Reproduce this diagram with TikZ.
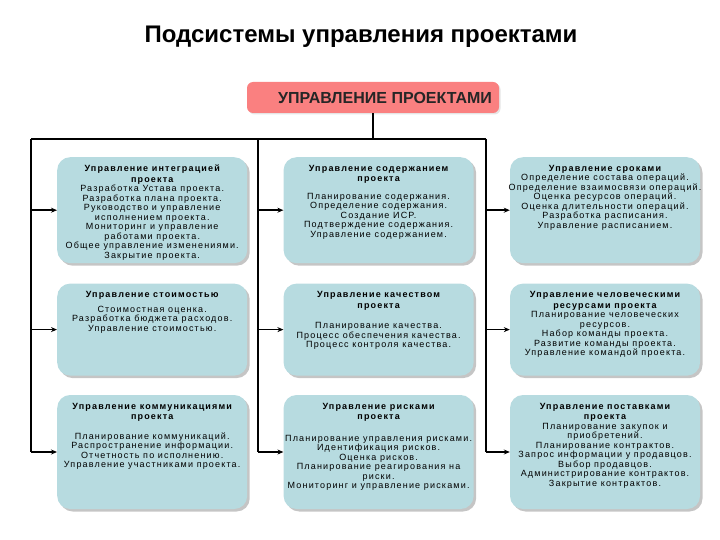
\documentclass[tikz,border=0pt]{standalone}
\usepackage{fontspec}
\setmainfont{Liberation Sans}
\newfontfamily\boxfont[LetterSpace=13]{Liberation Sans}
\usetikzlibrary{arrows.meta, positioning, shadows}

\definecolor{subfill}{RGB}{183,219,224}
\definecolor{pmfill}{RGB}{250,128,128}
\newcommand{\subhead}[1]{{\fontsize{9}{10.5}\selectfont\bfseries #1\par}}

\begin{document}
\begin{tikzpicture}[x=1pt, y=-1pt,
    sub/.style={rectangle, rounded corners=13pt, fill=subfill, inner sep=0pt,
                drop shadow={shadow xshift=2.5pt, shadow yshift=-2.5pt, fill=black!45},
                font=\boxfont\fontsize{9}{9.5}\selectfont,
                execute at begin node={\begin{minipage}[t][#1][t]{190pt}\vspace*{8pt}%
                  \centering\leftskip=-6pt plus 1fil\rightskip=-6pt plus 1fil},
                execute at end node={\end{minipage}}},
    pmbox/.style={rectangle, rounded corners=6pt, fill=pmfill, minimum width=252pt,
                  minimum height=31pt, text=black!85,
                  drop shadow={shadow xshift=1.5pt, shadow yshift=-1.5pt, fill=black!20},
                  font=\fontsize{16}{18}\selectfont\bfseries},
    bus/.style={line width=1.6pt, black},
    arrow/.style={-{Stealth[length=6pt, width=5pt]}, line width=1.6pt},
]
\useasboundingbox (0,0) rectangle (720,540);

% ---------- title + root ----------
\node[font=\fontsize{24}{28}\selectfont\bfseries] (title) at (361,37)
      {Подсистемы управления проектами};
\node[pmbox] (pm) at (373,97.5) {\hspace*{24pt}УПРАВЛЕНИЕ ПРОЕКТАМИ};

% ---------- row 1 ----------
\node[sub=106pt, anchor=north west] (integ) at (57,157) {%
  \subhead{Управление интеграцией\\проекта}
  Разработка Устава проекта.\\
  Разработка плана проекта.\\
  Руководство и управление\\
  исполнением проекта.\\
  Мониторинг и управление\\
  работами проекта.\\
  Общее управление изменениями.\\
  Закрытие проекта.};
\node[sub=106pt, right=36pt of integ] (scope) {%
  \subhead{Управление содержанием\\проекта}
  \vspace{8pt}
  Планирование содержания.\\
  Определение содержания.\\
  Создание ИСР.\\
  Подтверждение содержания.\\
  Управление содержанием.};
\node[sub=106pt, right=36pt of scope] (sched) {%
  \subhead{Управление сроками}
  Определение состава операций.\\
  Определение взаимосвязи операций.\\
  Оценка ресурсов операций.\\
  Оценка длительности операций.\\
  Разработка расписания.\\
  Управление расписанием.};

% ---------- row 2 ----------
\node[sub=92pt, below=20pt of integ] (cost) {%
  \subhead{Управление стоимостью}
  \vspace{5pt}
  Стоимостная оценка.\\
  Разработка бюджета расходов.\\
  Управление стоимостью.};
\node[sub=92pt, right=36pt of cost] (qual) {%
  \subhead{Управление качеством\\проекта}
  \vspace{11pt}
  Планирование качества.\\
  Процесс обеспечения качества.\\
  Процесс контроля качества.};
\node[sub=92pt, right=36pt of qual] (hr) {%
  \subhead{Управление человеческими\\ресурсами проекта}
  Планирование человеческих\\
  ресурсов.\\
  Набор команды проекта.\\
  Развитие команды проекта.\\
  Управление командой проекта.};

% ---------- row 3 ----------
\node[sub=114pt, below=19pt of cost] (comm) {%
  \subhead{Управление коммуникациями\\проекта}
  \vspace{10pt}
  Планирование коммуникаций.\\
  Распространение информации.\\
  Отчетность по исполнению.\\
  Управление участниками проекта.};
\node[sub=114pt, right=36pt of comm] (risk) {%
  \subhead{Управление рисками\\проекта}
  \vspace{12pt}
  Планирование управления рисками.\\
  Идентификация рисков.\\
  Оценка рисков.\\
  Планирование реагирования на\\
  риски.\\
  Мониторинг и управление рисками.};
\node[sub=114pt, right=36pt of risk] (procure) {%
  \subhead{Управление поставками\\проекта}
  Планирование закупок и\\
  приобретений.\\
  Планирование контрактов.\\
  Запрос информации у продавцов.\\
  Выбор продавцов.\\
  Администрирование контрактов.\\
  Закрытие контрактов.};

% ---------- bus ----------
\coordinate (busL) at (31,139);
\coordinate (busM) at (258,139);
\coordinate (busR) at (486,139);
\draw[bus] (pm.south) -- (pm.south |- busL);
\draw[bus] (busL) -- (busR);
\draw[bus] (busL) -- (busL |- comm.west);
\draw[bus] (busM) -- (busM |- risk.west);
\draw[bus] (busR) -- (busR |- procure.west);

% ---------- arrows into boxes ----------
\draw[arrow] (busL |- integ.west) -- (integ.west);
\draw[arrow] (busL |- cost.west)  -- (cost.west);
\draw[arrow] (busL |- comm.west)  -- (comm.west);
\draw[arrow] (busM |- scope.west) -- (scope.west);
\draw[arrow] (busM |- qual.west)  -- (qual.west);
\draw[arrow] (busM |- risk.west)  -- (risk.west);
\draw[arrow] (busR |- sched.west) -- (sched.west);
\draw[arrow] (busR |- hr.west)    -- (hr.west);
\draw[arrow] (busR |- procure.west) -- (procure.west);

\end{tikzpicture}
\end{document}
